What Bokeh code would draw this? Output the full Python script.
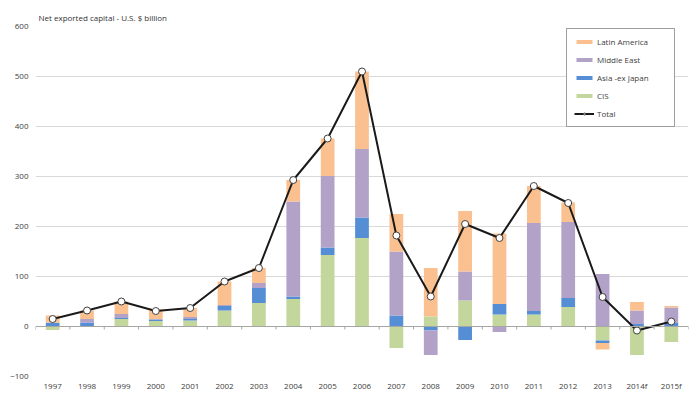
from bokeh.plotting import figure
from bokeh.models import ColumnDataSource, Legend, LegendItem, Span, FixedTicker, Range1d
from bokeh.transform import dodge
from bokeh.embed import file_html
from bokeh.resources import INLINE

years = ["1997", "1998", "1999", "2000", "2001", "2002", "2003", "2004", "2005", "2006",
         "2007", "2008", "2009", "2010", "2011", "2012", "2013", "2014f", "2015f"]
cis = [-7, 0, 15, 11, 12, 32, 47, 55, 143, 177, -43, 20, 52, 24, 24, 39, -28, -57, -31]
asia = [7, 8, 2, 3, 3, 9, 30, 5, 15, 41, 22, -8, -27, 21, 7, 18, -5, 5, 7]
middle_east = [1, 7, 8, 1, 4, 2, 10, 190, 143, 137, 128, -49, 58, -11, 176, 152, 105, 27, 31]
latin_america = [14, 17, 25, 19, 18, 47, 30, 43, 75, 155, 75, 97, 121, 141, 74, 39, -13, 17, 3]
total = [15, 32, 50, 31, 37, 90, 117, 293, 376, 510, 182, 60, 205, 177, 281, 247, 59, -8, 10]
y_ticks = [-100, 0, 100, 200, 300, 400, 500, 600]

series = [
    ("CIS", cis, "#C3D69B"),
    ("Asia -ex Japan", asia, "#558ED5"),
    ("Middle East", middle_east, "#B3A2C7"),
    ("Latin America", latin_america, "#FAC090"),
]

FONT = "Open Sans"
TXT = "#404040"

p = figure(x_range=years, y_range=Range1d(-100, 600), width=700, height=393,
           output_backend="svg", toolbar_location=None,
           min_border_left=35, min_border_right=12, min_border_bottom=17, min_border_top=26)
p.outline_line_color = None
p.background_fill_color = "white"
p.border_fill_color = "white"

p.title.text = "Net exported capital - U.S. $ billion"
p.title.text_font = FONT
p.title.text_font_size = "8px"
p.title.text_font_style = "normal"
p.title.text_color = "#333333"
p.title.align = "left"
p.title.offset = 3
p.title.standoff = 8

pos = [0] * len(years)
neg = [0] * len(years)
renderers = {}
for name, vals, color in series:
    bottoms, tops = [], []
    for i, v in enumerate(vals):
        if v >= 0:
            bottoms.append(pos[i]); tops.append(pos[i] + v); pos[i] += v
        else:
            tops.append(neg[i]); bottoms.append(neg[i] + v); neg[i] += v
    src = ColumnDataSource(dict(year=years, bottom=bottoms, top=tops))
    renderers[name] = p.vbar(x="year", bottom="bottom", top="top", width=0.4, source=src,
                             fill_color=color, line_color=None)

zero = Span(location=0, dimension="width", line_color="#a6a6a6", line_width=1)
p.add_layout(zero)

tick_src = ColumnDataSource(dict(year=years))
p.segment(x0=dodge("year", -0.5, range=p.x_range), y0=0,
          x1=dodge("year", -0.5, range=p.x_range), y1=-6,
          source=tick_src, line_color="#a6a6a6", line_width=1)
end_src = ColumnDataSource(dict(year=years[-1:]))
p.segment(x0=dodge("year", 0.5, range=p.x_range), y0=0,
          x1=dodge("year", 0.5, range=p.x_range), y1=-6,
          source=end_src, line_color="#a6a6a6", line_width=1)

tl = p.line(years, total, line_color="#1a1a1a", line_width=2)
ts = p.scatter(years, total, size=7, fill_color="white", line_color="#404040", line_width=1)

p.xgrid.grid_line_color = None
p.ygrid.ticker = FixedTicker(ticks=y_ticks)
p.ygrid.grid_line_color = "#d9d9d9"
p.ygrid.grid_line_width = 1

p.yaxis.ticker = FixedTicker(ticks=y_ticks)
p.yaxis.axis_line_color = None
p.yaxis.major_tick_line_color = None
p.yaxis.minor_tick_line_color = None
p.yaxis.major_tick_out = 0
p.yaxis.major_label_standoff = 7
p.yaxis.major_label_text_font = FONT
p.yaxis.major_label_text_font_size = "8px"
p.yaxis.major_label_text_color = TXT

p.xaxis.axis_line_color = None
p.xaxis.major_tick_line_color = None
p.xaxis.major_tick_out = 0
p.xaxis.major_tick_in = 0
p.xaxis.axis_label_standoff = 0
p.xaxis.major_label_standoff = 3
p.xaxis.major_label_text_font = FONT
p.xaxis.major_label_text_font_size = "8px"
p.xaxis.major_label_text_color = TXT

items = [
    LegendItem(label="Latin America", renderers=[renderers["Latin America"]]),
    LegendItem(label="Middle East", renderers=[renderers["Middle East"]]),
    LegendItem(label="Asia -ex Japan", renderers=[renderers["Asia -ex Japan"]]),
    LegendItem(label="CIS", renderers=[renderers["CIS"]]),
    LegendItem(label="Total", renderers=[tl, ts]),
]
legend = Legend(items=items, location=(531, 249), orientation="vertical",
                padding=7, spacing=7, label_height=10, glyph_height=5, glyph_width=20,
                label_standoff=3, label_width=70,
                label_text_font=FONT, label_text_font_size="8px", label_text_color=TXT,
                border_line_color="#404040", border_line_width=1,
                background_fill_color="white", background_fill_alpha=1)
p.add_layout(legend)

open("out.html", "w").write(file_html(p, INLINE))
